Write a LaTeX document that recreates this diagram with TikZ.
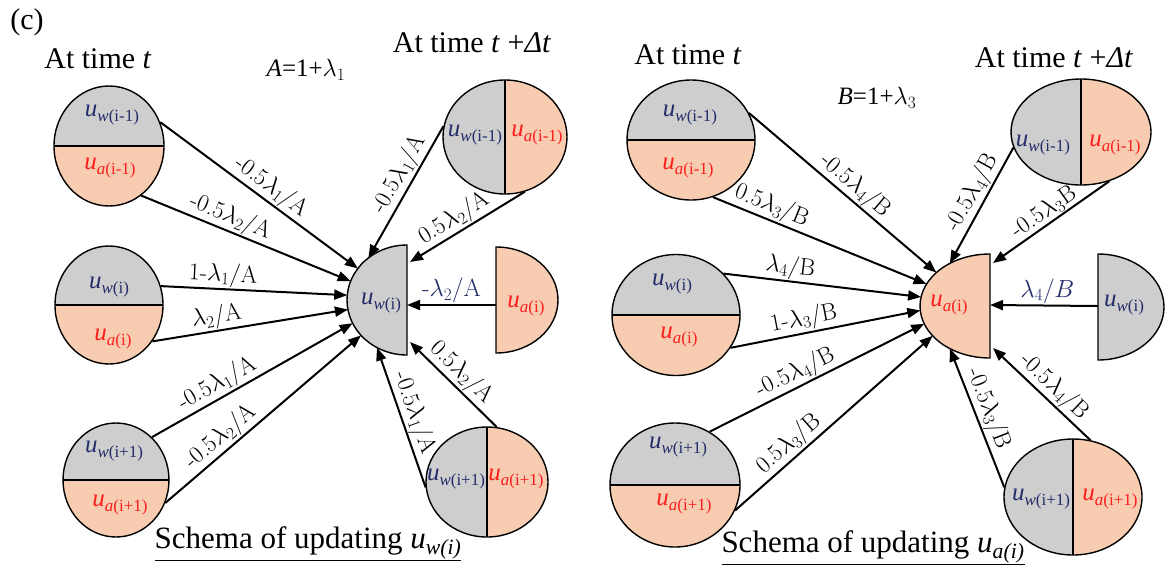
\documentclass[tikz,border=0pt]{standalone}
\usepackage{fontspec}
\newfontfamily\tnr{Liberation Serif}
\usetikzlibrary{arrows.meta,calc,shapes.geometric}

\definecolor{cgray}{RGB}{206,206,206}
\definecolor{csal}{RGB}{248,204,176}
\definecolor{cw}{RGB}{35,45,105}
\definecolor{ca}{RGB}{250,30,30}

% variable labels u_w(.) and u_a(.)
\newcommand{\uw}[1]{{\color{cw}\tnr\fontsize{25}{25}\selectfont\textit{u}\raisebox{-0.18em}{\fontsize{17}{17}\selectfont\textit{w}(#1)}}}
\newcommand{\ua}[1]{{\color{ca}\tnr\fontsize{25}{25}\selectfont\textit{u}\raisebox{-0.18em}{\fontsize{17}{17}\selectfont\textit{a}(#1)}}}

\tikzset{
  hsplit/.style={ellipse, draw=black, line width=1.4pt, inner sep=0pt,
    path picture={
      \fill[cgray] (path picture bounding box.north west) rectangle (path picture bounding box.east);
      \fill[csal] (path picture bounding box.west) rectangle (path picture bounding box.south east);
      \draw[line width=1.7pt] (path picture bounding box.west) -- (path picture bounding box.east);}},
  vsplit/.style={ellipse, draw=black, line width=1.4pt, inner sep=0pt,
    path picture={
      \fill[cgray] (path picture bounding box.north west) rectangle (path picture bounding box.south);
      \fill[csal] (path picture bounding box.north) rectangle (path picture bounding box.south east);
      \draw[line width=2.8pt] (path picture bounding box.north) -- (path picture bounding box.south);}},
  halfg/.style={fill=cgray, draw=black, line width=1.4pt},
  halfs/.style={fill=csal, draw=black, line width=1.4pt},
  arr/.style={line width=2pt, -{Triangle[length=13pt,width=10pt]}},
  lab/.style={sloped, above, inner sep=1pt, font=\fontsize{24}{24}\selectfont},
  ttl/.style={font=\tnr\fontsize{30}{30}\selectfont, inner sep=0pt},
  tag/.style={inner sep=0pt},
}

\begin{document}
\begin{tikzpicture}[x=1pt,y=-1pt]
\useasboundingbox (0,0) rectangle (1166,565);
\fill[white] (0,0) rectangle (1166,565);

% ---------------- left panel: updating u_w(i) ----------------
\node[ttl] (pc) at (27,22) {(c)};
\node[ttl] (lt1) at (98,59) {At time \textit{t}};
\node[ttl] (lt2) at (472,43) {At time \textit{t} +\textit{Δt}};
\node[tag, font=\tnr\fontsize{25}{25}\selectfont] (lA) at (306,70) {\textit{A}=1+$\lambda_1$};

\node[hsplit, minimum width=110pt, minimum height=120pt] (L1) at (109,146) {};
\node[hsplit, minimum width=108pt, minimum height=118pt] (L2) at (109,305) {};
\node[hsplit, minimum width=106pt, minimum height=114pt] (L3) at (116,480) {};
\node[vsplit, minimum width=124pt, minimum height=114pt] (L4) at (505,137) {};
\node[vsplit, minimum width=122pt, minimum height=110pt] (L5) at (487,482) {};

\coordinate (Lc) at (407,300);
\coordinate (Lr) at (496,300);
\filldraw[halfg] ($(Lc)+(0,-55)$) arc[start angle=-90, end angle=-270, x radius=60, y radius=55] -- cycle;
\filldraw[halfs] ($(Lr)+(0,-53)$) arc[start angle=-90, end angle=90, x radius=62, y radius=53] -- cycle;

\node[tag] (l1w) at (112,115) {\uw{i-1}};
\node[tag] (l1a) at (110,168) {\ua{i-1}};
\node[tag] (l2w) at (109,287) {\uw{i}};
\node[tag] (l2a) at (113,339) {\ua{i}};
\node[tag] (l3w) at (114,451) {\uw{i+1}};
\node[tag] (l3a) at (120,505) {\ua{i+1}};
\node[tag] (l4w) at (475,135) {\uw{i-1}};
\node[tag] (l4a) at (537,135) {\ua{i-1}};
\node[tag] (l5w) at (456,479) {\uw{i+1}};
\node[tag] (l5a) at (516,479) {\ua{i+1}};
\node[tag] (lcw) at (381,303) {\uw{i}};
\node[tag] (lra) at (526,306) {\ua{i}};

\draw[arr] (L1.25) -- node[lab,pos=0.52]{-0.5$\lambda_1$/A} ($(Lc)+(-145:60 and 55)$);
\draw[arr] (L1.-57) -- node[lab,pos=0.4]{-0.5$\lambda_2$/A} ($(Lc)+(-160:60 and 55)$);
\draw[arr] (L2.20) -- node[lab,pos=0.33]{1-$\lambda_1$/A} ($(Lc)+(-175:60 and 55)$);
\draw[arr] (L2.-40) -- node[lab,pos=0.34]{$\lambda_2$/A} ($(Lc)+(-190:60 and 55)$);
\draw[arr] (L3.50) -- node[lab,pos=0.36]{-0.5$\lambda_1$/A} ($(Lc)+(-205:60 and 55)$);
\draw[arr] (L3.-25) -- node[lab,pos=0.33]{-0.5$\lambda_2$/A} ($(Lc)+(-220:60 and 55)$);
\draw[arr] (L4.170) -- node[lab,pos=0.42]{-0.5$\lambda_1$/A} ($(Lc)+(-130:60 and 55)$);
\draw[arr] (L4.-70) -- node[lab,pos=0.55]{0.5$\lambda_2$/A} ($(Lc)+(3,-38)$);
\draw[arr] ($(Lr)+(0,5)$) -- node[lab,pos=0.5,text=cw,font=\fontsize{25}{25}\selectfont]{-$\lambda_2$/A} ($(Lc)+(0,5)$);
\draw[arr] (L5.80) -- node[lab,pos=0.52]{0.5$\lambda_2$/A} ($(Lc)+(3,42)$);
\draw[arr] (L5.185) -- node[lab,pos=0.5]{-0.5$\lambda_1$/A} ($(Lc)+(-240:60 and 55)$);

\node[ttl, anchor=base, font=\tnr\fontsize{31}{31}\selectfont] (lcap) at (308,548) {\underline{Schema of updating \textit{u}\textsubscript{\textit{w(i)}}}};

% ---------------- right panel: updating u_a(i) ----------------
\node[ttl] (rt1) at (688,55) {At time \textit{t}};
\node[ttl] (rt2) at (1054,58) {At time \textit{t} +\textit{Δt}};
\node[tag, font=\tnr\fontsize{25}{25}\selectfont] (rB) at (877,98) {\textit{B}=1+$\lambda_3$};

\node[hsplit, minimum width=128pt, minimum height=120pt] (R1) at (691,140) {};
\node[hsplit, minimum width=128pt, minimum height=121pt] (R2) at (676,315) {};
\node[hsplit, minimum width=130pt, minimum height=124pt] (R3) at (675,485) {};
\node[vsplit, minimum width=140pt, minimum height=106pt] (R4) at (1081,132) {};
\node[vsplit, minimum width=138pt, minimum height=116pt] (R5) at (1073,497) {};

\coordinate (Rc) at (990,306);
\coordinate (Rr) at (1098,307);
\filldraw[halfs] ($(Rc)+(0,-52)$) arc[start angle=-90, end angle=-270, x radius=70, y radius=52] -- cycle;
\filldraw[halfg] ($(Rr)+(0,-53)$) arc[start angle=-90, end angle=90, x radius=66, y radius=53] -- cycle;

\node[tag] (r1w) at (690,115) {\uw{i-1}};
\node[tag] (r1a) at (688,168) {\ua{i-1}};
\node[tag] (r2w) at (672,284) {\uw{i}};
\node[tag] (r2a) at (679,337) {\ua{i}};
\node[tag] (r3w) at (678,447) {\uw{i+1}};
\node[tag] (r3a) at (684,504) {\ua{i+1}};
\node[tag] (r4w) at (1043,145) {\uw{i-1}};
\node[tag] (r4a) at (1115,145) {\ua{i-1}};
\node[tag] (r5w) at (1041,499) {\uw{i+1}};
\node[tag] (r5a) at (1110,499) {\ua{i+1}};
\node[tag] (rca) at (949,305) {\ua{i}};
\node[tag] (rrw) at (1124,305) {\uw{i}};

\draw[arr] (R1.25) -- node[lab,pos=0.52]{-0.5$\lambda_4$/B} ($(Rc)+(-140:70 and 52)$);
\draw[arr] (R1.-69) -- node[lab,pos=0.25]{0.5$\lambda_3$/B} ($(Rc)+(-155:70 and 52)$);
\draw[arr] (R2.41) -- node[lab,pos=0.33]{$\lambda_4$/B} ($(Rc)+(-170:70 and 52)$);
\draw[arr] (R2.-31) -- node[lab,pos=0.4]{1-$\lambda_3$/B} ($(Rc)+(-185:70 and 52)$);
\draw[arr] (R3.57) -- node[lab,pos=0.43]{-0.5$\lambda_4$/B} ($(Rc)+(-200:70 and 52)$);
\draw[arr] (R3.-23) -- node[lab,pos=0.32]{0.5$\lambda_3$/B} ($(Rc)+(-215:70 and 52)$);
\draw[arr] (R4.193) -- node[lab,pos=0.45]{-0.5$\lambda_4$/B} ($(Rc)+(-125:70 and 52)$);
\draw[arr] (R4.-60) -- node[lab,pos=0.5]{-0.5$\lambda_3$B} ($(Rc)+(3,-43)$);
\draw[arr] ($(Rr)+(0,-1)$) -- node[lab,pos=0.47,text=cw,font=\fontsize{27}{27}\selectfont]{$\lambda_4/B$} ($(Rc)+(0,-1)$);
\draw[arr] (R5.73) -- node[lab,pos=0.47]{-0.5$\lambda_4$/B} ($(Rc)+(3,42)$);
\draw[arr] (R5.172) -- node[lab,pos=0.53]{-0.5$\lambda_3$/B} ($(Rc)+(-235:70 and 52)$);

\node[ttl, anchor=base, font=\tnr\fontsize{31}{31}\selectfont] (rcap) at (873,552) {\underline{Schema of updating \textit{u}\textsubscript{\textit{a(i)}}}};
\end{tikzpicture}
\end{document}
